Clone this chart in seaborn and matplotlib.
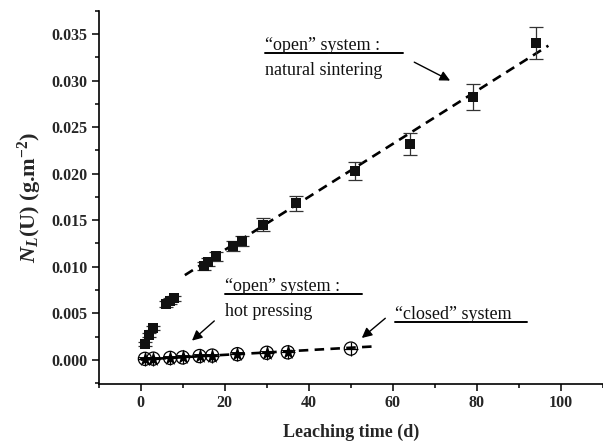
import numpy as np
import pandas as pd
import matplotlib
matplotlib.use("Agg")
import matplotlib.pyplot as plt
import seaborn as sns
from matplotlib.ticker import MultipleLocator

# ---------------- data ----------------
sinter_days = [1, 2, 3, 6, 7, 8, 15, 16, 18, 22, 24, 29, 37, 51, 64, 79, 94]
sinter_NL = [0.0017, 0.0027, 0.0034, 0.0060, 0.0063, 0.0066, 0.0101, 0.0105,
             0.0111, 0.0122, 0.0128, 0.0145, 0.0168, 0.0203, 0.0232, 0.0282, 0.0340]
sinter_err = [0.0002, 0.0002, 0.0002, 0.0003, 0.0003, 0.0003, 0.00045, 0.00045,
              0.0005, 0.00055, 0.00055, 0.0007, 0.0008, 0.00095, 0.00115, 0.0014, 0.0017]

hot_days = [1, 3, 7, 10, 14, 17, 23, 30, 35]
hot_NL = [0.0001, 0.00012, 0.0002, 0.00025, 0.0004, 0.00045, 0.0006, 0.00075, 0.0008]

closed_days = [1, 3, 7, 10, 14, 17, 23, 30, 35, 50]
closed_NL = [0.0001, 0.00012, 0.0002, 0.00025, 0.0004, 0.00045, 0.0006, 0.00075, 0.0008, 0.0012]

# fitted trend lines (slope, intercept, day range)
sinter_fit_slope, sinter_fit_intercept, sinter_fit_range = 0.000285, 0.0061, [10.5, 97]
closed_fit_slope, closed_fit_intercept, closed_fit_range = 0.0000255, 0.00002, [0, 55]

x_ticks = [0, 20, 40, 60, 80, 100]
y_ticks = [0.000, 0.005, 0.010, 0.015, 0.020, 0.025, 0.030, 0.035]

# ---------------- style ----------------
sns.set_theme(style="white")
plt.rcParams["font.family"] = ["Liberation Serif", "DejaVu Serif"]
plt.rcParams["mathtext.fontset"] = "custom"
plt.rcParams["mathtext.rm"] = "Liberation Serif:bold"
plt.rcParams["mathtext.it"] = "Liberation Serif:italic:bold"
plt.rcParams["mathtext.bf"] = "Liberation Serif:bold"

fig = plt.figure(figsize=(6.03, 4.47), dpi=100)
ax = fig.add_axes([0.1637, 0.141, 0.8363, 0.835])

df_s = pd.DataFrame({"t": sinter_days, "y": sinter_NL, "e": sinter_err})
df_h = pd.DataFrame({"t": hot_days, "y": hot_NL})
df_c = pd.DataFrame({"t": closed_days, "y": closed_NL})

# trend lines
fs = pd.DataFrame({"t": sinter_fit_range})
fs["y"] = sinter_fit_intercept + sinter_fit_slope * fs["t"]
fc = pd.DataFrame({"t": closed_fit_range})
fc["y"] = closed_fit_intercept + closed_fit_slope * fc["t"]
for d in (fs, fc):
    sns.lineplot(data=d, x="t", y="y", ax=ax, color="black", lw=1.9, zorder=2)
    ax.lines[-1].set_dashes((3.6, 2.4))

# error bars
ax.errorbar(df_s["t"], df_s["y"], yerr=df_s["e"], fmt="none", ecolor="#333333",
            elinewidth=0.9, capsize=5.2, capthick=0.9, zorder=3)
# squares
sns.scatterplot(data=df_s, x="t", y="y", ax=ax, marker="s", s=62, color="#111111",
                edgecolor="#111111", linewidth=0, zorder=4)
# closed system: circle with plus
sns.scatterplot(data=df_c, x="t", y="y", ax=ax, marker="o", s=90, facecolor="none",
                edgecolor="black", linewidth=0.9, zorder=4)
sns.scatterplot(data=df_c, x="t", y="y", ax=ax, marker="+", s=90, color="black",
                linewidth=0.9, zorder=4)
# hot pressing: stars
sns.scatterplot(data=df_h, x="t", y="y", ax=ax, marker="*", s=130, color="black",
                linewidth=0, zorder=5)

# ---------------- axes ----------------
ax.set_xlim(-10, 110)
ax.set_ylim(-0.0026, 0.0375)
ax.set_xticks(x_ticks)
ax.set_yticks(y_ticks)
ax.set_xticklabels([str(v) for v in x_ticks])
ax.set_yticklabels([f"{v:.3f}" for v in y_ticks])
ax.xaxis.set_minor_locator(MultipleLocator(10))
ax.yaxis.set_minor_locator(MultipleLocator(0.0025))
for lab in ax.get_xticklabels() + ax.get_yticklabels():
    lab.set_fontweight("bold")
    lab.set_fontsize(11.5)
ax.tick_params(which="major", direction="out", length=5, width=1.1, color="black",
               bottom=True, left=True, pad=3)
ax.tick_params(which="minor", direction="out", length=3, width=1.1, color="black",
               bottom=True, left=True)
for side in ("top", "right"):
    ax.spines[side].set_visible(False)
for side in ("left", "bottom"):
    ax.spines[side].set_color("black")
    ax.spines[side].set_linewidth(1.2)

ax.set_xlabel("Leaching time (d)", fontsize=13, fontweight="bold", labelpad=9)
ax.set_ylabel(r"$N_L$" + "(U) (g.m" + r"$^{-2}$" + ")", fontsize=16, fontweight="bold",
              labelpad=5)

# ---------------- annotations ----------------
txt = dict(fontsize=13, color="#111111", va="center", ha="left")
arrow = dict(arrowstyle="-|>", color="black", lw=1.0, mutation_scale=15)

ax.text(29.5, 0.0338, "\u201copen\u201d system :", **txt)
ax.plot([29.5, 62.4], [0.03297, 0.03297], color="black", lw=1.4)
ax.text(29.5, 0.0311, "natural sintering", **txt)
ax.annotate("", xy=(74.2, 0.02986), xytext=(64.5, 0.03211), arrowprops=arrow)

ax.text(20.0, 0.00786, "\u201copen\u201d system :", **txt)
ax.plot([20.0, 52.6], [0.00705, 0.00705], color="black", lw=1.4)
ax.text(20.0, 0.00518, "hot pressing", **txt)
ax.annotate("", xy=(11.7, 0.00186), xytext=(18.0, 0.00437), arrowprops=arrow)

ax.text(60.4, 0.0049, "\u201cclosed\u201d system", **txt)
ax.plot([60.4, 92.0], [0.00411, 0.00411], color="black", lw=1.4)
ax.annotate("", xy=(52.1, 0.00215), xytext=(58.7, 0.00465), arrowprops=arrow)

fig.savefig("out.png", dpi=100)
